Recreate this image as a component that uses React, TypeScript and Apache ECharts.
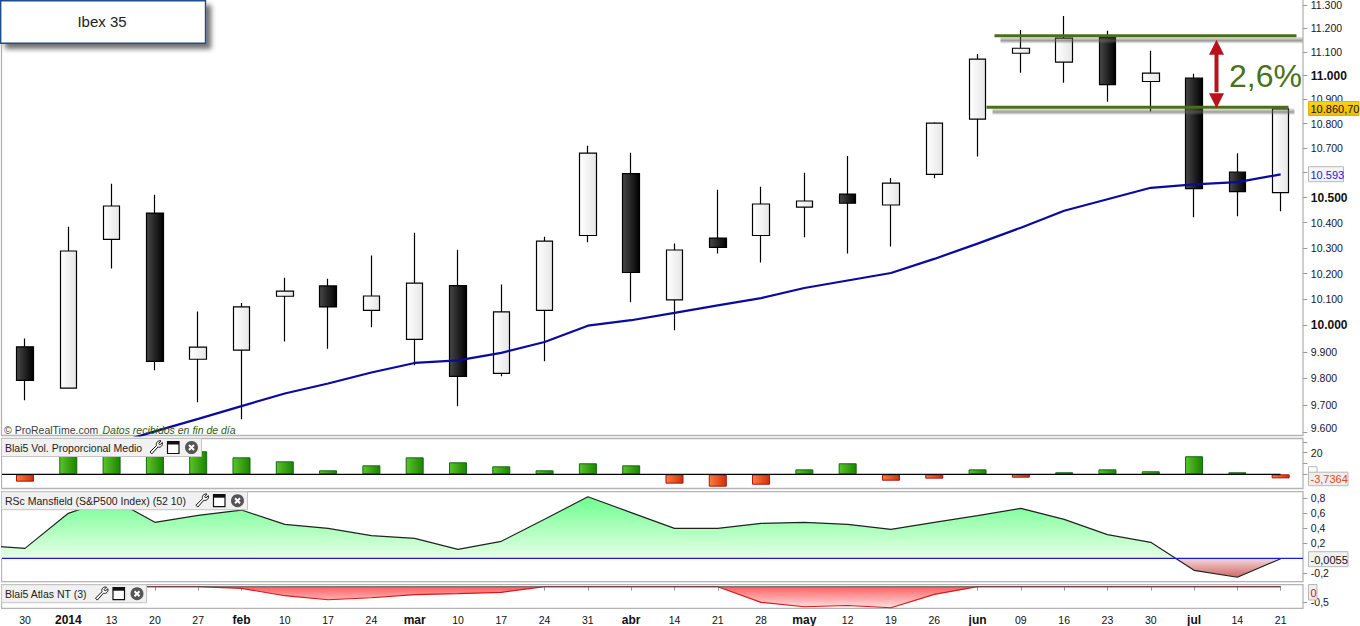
import React, { useEffect, useRef } from "react";
import * as echarts from "echarts";

const FONT = "Liberation Sans";

// one extra leading week (label-less) lets the indicator lines enter from the left edge
const categories = ["", "30", "2014", "13", "20", "27", "feb", "10", "17", "24", "mar", "10", "17", "24", "31", "abr", "14", "21", "28", "may", "12", "19", "26", "jun", "09", "16", "23", "30", "jul", "14", "21"];

// open, close, low, high
const candles: (number[] | null)[] = [
  null,
  [9919, 9793, 9719, 9950],
  [9764, 10288, 9762, 10384],
  [10334, 10466, 10220, 10555],
  [10438, 9864, 9831, 10511],
  [9872, 9918, 9711, 10053],
  [9906, 10071, 9649, 10086],
  [10112, 10132, 9939, 10184],
  [10152, 10071, 9912, 10180],
  [10058, 10113, 9993, 10270],
  [9947, 10163, 9849, 10360],
  [10153, 9808, 9697, 10293],
  [9819, 10052, 9808, 10157],
  [10058, 10327, 9864, 10344],
  [10349, 10679, 10322, 10709],
  [10596, 10204, 10089, 10681],
  [10098, 10292, 9982, 10317],
  [10339, 10302, 10278, 10531],
  [10349, 10474, 10243, 10543],
  [10462, 10486, 10342, 10600],
  [10514, 10477, 10278, 10668],
  [10470, 10558, 10306, 10578],
  [10593, 10802, 10577, 10806],
  [10819, 11069, 10666, 11091],
  [11094, 11115, 11012, 11193],
  [11056, 11158, 10970, 11253],
  [11160, 10962, 10891, 11189],
  [10975, 11010, 10850, 11104],
  [10989, 10536, 10421, 11007],
  [10602, 10524, 10425, 10679],
  [10520, 10860.7, 10445, 10860.7],
];

const movingAverage: (number | null)[] = [null, null, null, 9557, 9604, 9650, 9697, 9744, 9781, 9822, 9858, 9868, 9896, 9937, 9999, 10020, 10048, 10077, 10105, 10144, 10173, 10202, 10257, 10317, 10380, 10447, 10493, 10539, 10553, 10562, 10593];

const volume: (number | null)[] = [null, -6.8, 24, 22, 20, 21.3, 15.7, 12, 3.7, 8.3, 15.7, 11.1, 7.4, 3.7, 10.2, 8.3, -8.6, -11.4, -9.6, 4.6, 10.2, -5.9, -4, 4.6, -3.1, 1.9, 4.6, 2.8, 16.7, 1.9, -3.7364];

const mansfield = [0.175, 0.133, 0.6, 0.8, 0.48, 0.573, 0.644, 0.453, 0.4, 0.302, 0.267, 0.12, 0.227, 0.52, 0.822, 0.61, 0.4, 0.4, 0.467, 0.48, 0.453, 0.387, 0.48, 0.569, 0.667, 0.52, 0.316, 0.213, -0.16, -0.253, -0.0055];

const atlas: (number | null)[] = [null, 0, 0, 0, 0, 0, -0.053, -0.288, -0.417, -0.353, -0.256, -0.224, -0.18, 0, 0, 0, 0, 0, -0.5, -0.641, -0.6, -0.673, -0.246, 0, 0, 0, 0, 0, 0, 0, 0];

const priceTicks = [11300, 11200, 11100, 11000, 10900, 10800, 10700, 10600, 10500, 10400, 10300, 10200, 10100, 10000, 9900, 9800, 9700, 9600];
const priceLabels = [11300, 11200, 11100, 11000, 10900, 10800, 10700, 10500, 10400, 10300, 10200, 10100, 10000, 9900, 9800, 9700, 9600];
const boldPrices = [11000, 10500, 10000];
const volTicks = [0, 10, 20, 30];
const volLabels = [20];
const rscTicks = [-0.2, 0.2, 0.4, 0.6, 0.8];
const atlasTicks = [-0.5];

const upperLevel = 11168;
const lowerLevel = 10868;

echarts.graphic.registerShape(
  "wrenchIcon",
  echarts.graphic.extendPath("M1 11.5 L7.5 5 C6.6 2.2 8.8 -0.2 12 0.4 L9.6 3 L10.8 4.3 L13.4 2 C14 5.2 11.6 7.4 8.9 6.5 L2.8 13.4 Z", {}) as any
);

const hGrad = (a: string, b: string) => new echarts.graphic.LinearGradient(0, 0, 1, 0, [{ offset: 0, color: a }, { offset: 1, color: b }]);
const fmtPrice = (v: number) => {
  const n = Math.round(v);
  return `${Math.floor(n / 1000)}.${String(n % 1000).padStart(3, "0")}`;
};
const comma = (v: number) => String(v).replace(".", ",");

const LEFT = -39.95;
const WIDTH = 1342.25;
const LABEL_MARGIN = 8.5;

function frame(x: number, y: number, w: number, h: number) {
  return { type: "rect", z: 1, silent: true, shape: { x, y, width: w, height: h }, style: { fill: "none", stroke: "#b4b4b4", lineWidth: 1.3 } };
}
function label(text: string, x: number, y: number, color: string, extra: any = {}) {
  return { type: "text", z: 30, silent: true, x, y, style: { text, fill: color, font: `10.5px "${FONT}"`, verticalAlign: "middle", align: "left", ...extra } };
}
function valueBox(text: string, x: number, y: number, w: number, h: number, fill: any, color: string, stroke = "#b8b8b8") {
  return [
    { type: "rect", z: 29, silent: true, shape: { x, y, width: w, height: h }, style: { fill, stroke, lineWidth: 1 } },
    label(text, x + 2, y + h / 2 + 0.5, color, { font: `11px "${FONT}"` }),
  ];
}
function legendBox(text: string, w: number, y: number, x0: number) {
  const cy = y + 9;
  return [
    { type: "rect", z: 28, silent: true, shape: { x: 1.5, y, width: w, height: 18 }, style: { fill: "#f1f1f1", stroke: "#c4c4c4", lineWidth: 1 } },
    label(text, 5, cy, "#222"),
    { type: "wrenchIcon", z: 30, silent: true, x: x0, y: cy - 7, style: { fill: "#fff", stroke: "#111", lineWidth: 1 } },
    { type: "rect", z: 30, silent: true, shape: { x: x0 + 18.5, y: cy - 6, width: 11.5, height: 12 }, style: { fill: "#fff", stroke: "#111", lineWidth: 1.2 } },
    { type: "rect", z: 30, silent: true, shape: { x: x0 + 18.5, y: cy - 6, width: 11.5, height: 3 }, style: { fill: "#111" } },
    { type: "circle", z: 30, silent: true, shape: { cx: x0 + 42.5, cy, r: 6.5 }, style: { fill: "#555" } },
    { type: "line", z: 31, silent: true, shape: { x1: x0 + 40, y1: cy - 2.5, x2: x0 + 45, y2: cy + 2.5 }, style: { stroke: "#fff", lineWidth: 2 } },
    { type: "line", z: 31, silent: true, shape: { x1: x0 + 45, y1: cy - 2.5, x2: x0 + 40, y2: cy + 2.5 }, style: { stroke: "#fff", lineWidth: 2 } },
  ];
}
function levelLine(x: number, w: number, y: number) {
  return [
    {
      type: "rect", z: 19, silent: true,
      shape: { x: x + 6, y: y + 1, width: w, height: 7 },
      style: { fill: new echarts.graphic.LinearGradient(0, 0, 0, 1, [{ offset: 0, color: "rgba(110,110,110,0.1)" }, { offset: 0.55, color: "rgba(100,100,100,0.65)" }, { offset: 1, color: "rgba(110,110,110,0)" }]) },
    },
    { type: "rect", z: 20, silent: true, shape: { x, y: y - 1.5, width: w, height: 3 }, style: { fill: "#4a6f1c" } },
  ];
}

function buildOption(): any {
  const area = { type: "line", showSymbol: false, symbol: "none", animation: false };
  const gridBase = { left: LEFT, width: WIDTH, outerBoundsMode: "none", containLabel: false };
  return {
    animation: false,
    backgroundColor: "#fff",
    textStyle: { fontFamily: FONT },
    grid: [
      { ...gridBase, top: 0, height: 435.5 },
      { ...gridBase, top: 438.5, height: 50 },
      { ...gridBase, top: 491.7, height: 90 },
      { ...gridBase, top: 584.7, height: 23.6 },
    ],
    xAxis: [0, 1, 2, 3].map((i) => ({
      type: "category",
      gridIndex: i,
      data: categories,
      show: i === 3,
      boundaryGap: true,
      axisLine: { show: false },
      axisTick: { show: i === 3, alignWithLabel: true, length: 4, lineStyle: { color: "#999" } },
      axisLabel: {
        show: i === 3,
        interval: 0,
        margin: 6,
        fontFamily: FONT,
        fontSize: 10.5,
        color: "#111",
        formatter: (v: string) => (/^\d{2}$/.test(v) || v === "" ? v : `{b|${v}}`),
        rich: { b: { fontFamily: FONT, fontSize: 12, fontWeight: "bold", color: "#111" } },
      },
    })),
    yAxis: [
      {
        type: "value", gridIndex: 0, position: "right",
        min: Math.log(9589), max: Math.log(11321.5),
        splitLine: { show: false }, axisLine: { show: false },
        axisTick: { show: true, length: 5, customValues: priceTicks.map(Math.log), lineStyle: { color: "#999" } },
        axisLabel: {
          margin: LABEL_MARGIN, fontFamily: FONT, fontSize: 10.5, color: "#16162a",
          customValues: priceLabels.map(Math.log),
          formatter: (v: number) => {
            const n = Math.round(Math.exp(v));
            const s = fmtPrice(n);
            if (boldPrices.includes(n)) return `{b|${s}}`;
            if (n === priceTicks[priceTicks.length - 1]) return `{u|${s}}`;
            return s;
          },
          rich: {
            b: { fontFamily: FONT, fontSize: 12, fontWeight: "bold", color: "#111" },
            u: { fontFamily: FONT, fontSize: 10.5, color: "#16162a", padding: [0, 0, 8, 0] },
          },
        },
      },
      {
        type: "value", gridIndex: 1, position: "right", min: -13.1, max: 33.1,
        splitLine: { show: false }, axisLine: { show: false },
        axisTick: { show: true, length: 5, customValues: volTicks, lineStyle: { color: "#999" } },
        axisLabel: { margin: LABEL_MARGIN, fontFamily: FONT, fontSize: 10.5, color: "#16162a", customValues: volLabels },
      },
      {
        type: "value", gridIndex: 2, position: "right", min: -0.312, max: 0.8887,
        splitLine: { show: false }, axisLine: { show: false },
        axisTick: { show: true, length: 5, customValues: rscTicks, lineStyle: { color: "#999" } },
        axisLabel: { margin: LABEL_MARGIN, fontFamily: FONT, fontSize: 10.5, color: "#16162a", customValues: rscTicks, formatter: (v: number) => comma(Math.round(v * 10) / 10) },
      },
      {
        type: "value", gridIndex: 3, position: "right", min: -0.69, max: 0.064,
        splitLine: { show: false }, axisLine: { show: false },
        axisTick: { show: true, length: 5, customValues: atlasTicks, lineStyle: { color: "#999" } },
        axisLabel: { margin: LABEL_MARGIN, fontFamily: FONT, fontSize: 10.5, color: "#16162a", customValues: atlasTicks, formatter: (v: number) => comma(v) },
      },
    ],
    series: [
      {
        type: "candlestick",
        xAxisIndex: 0, yAxisIndex: 0,
        barWidth: 17,
        data: candles.map((c) => (c ? c.map(Math.log) : ["-", "-", "-", "-"])),
        itemStyle: {
          color: hGrad("#ffffff", "#e6e6e6"),
          color0: hGrad("#484848", "#000000"),
          borderColor: "#000",
          borderColor0: "#000",
          borderWidth: 1.2,
        },
      },
      {
        ...area, xAxisIndex: 0, yAxisIndex: 0, z: 3,
        data: movingAverage.map((v) => (v == null ? "-" : Math.log(v))),
        lineStyle: { color: "#0a0a9c", width: 2.2 },
      },
      {
        type: "bar", xAxisIndex: 1, yAxisIndex: 1, barWidth: 18,
        data: volume.map((v) => ({
          value: v == null ? "-" : v,
          itemStyle: (v ?? 0) >= 0
            ? { color: hGrad("#5cc42c", "#1c8400"), borderColor: "#106a10", borderWidth: 1 }
            : { color: hGrad("#ff7c3c", "#cf300c"), borderColor: "#a81212", borderWidth: 1 },
        })),
      },
      {
        ...area, xAxisIndex: 2, yAxisIndex: 2,
        data: mansfield,
        lineStyle: { color: "#222", width: 1.2 },
        areaStyle: {
          opacity: 1,
          origin: 0,
          color: new echarts.graphic.LinearGradient(0, 497, 0, 578, [
            { offset: 0, color: "#6eff90" },
            { offset: 0.755, color: "#e6ffe6" },
            { offset: 0.755, color: "#f5d8d8" },
            { offset: 1, color: "#cc6464" },
          ], true),
        },
      },
      {
        ...area, xAxisIndex: 3, yAxisIndex: 3,
        data: atlas.map((v) => (v == null ? "-" : v)),
        lineStyle: { color: "#d8181c", width: 1.2 },
        areaStyle: {
          opacity: 1,
          origin: 0,
          color: new echarts.graphic.LinearGradient(0, 587, 0, 608, [
            { offset: 0, color: "#ff6266" },
            { offset: 1, color: "#ffe2e2" },
          ], true),
        },
      },
    ],
  };
}

function buildGraphic(chart: any) {
  const py = (v: number) => chart.convertToPixel({ yAxisIndex: 0 }, Math.log(v));
  const zeroVol = chart.convertToPixel({ yAxisIndex: 1 }, 0);
  const zeroRsc = chart.convertToPixel({ yAxisIndex: 2 }, 0);
  const zeroAtlas = chart.convertToPixel({ yAxisIndex: 3 }, 0);
  const yUp = py(upperLevel);
  const yLow = py(lowerLevel);
  const ax = 1216.5;
  const red = "#b8121c";
  const elements: any[] = [
    frame(1.5, -3, 1301.5, 438.5),
    frame(1.5, 438.5, 1301.5, 50),
    frame(1.5, 491.7, 1301.5, 90),
    frame(1.5, 584.7, 1301.5, 23.6),
    { type: "rect", z: 40, silent: true, shape: { x: 0, y: 437, width: 1, height: 172 }, style: { fill: "#fff" } },
    { type: "line", z: 15, silent: true, shape: { x1: 2, y1: zeroVol, x2: 1280.5, y2: zeroVol }, style: { stroke: "#000", lineWidth: 1.2 } },
    { type: "line", z: 15, silent: true, shape: { x1: 2, y1: zeroRsc, x2: 1303, y2: zeroRsc }, style: { stroke: "#1a1ae0", lineWidth: 1.2 } },
    { type: "line", z: 15, silent: true, shape: { x1: 2, y1: zeroAtlas, x2: 1280.5, y2: zeroAtlas }, style: { stroke: "#555", lineWidth: 1.1 } },
    label("© ProRealTime.com", 4, 429.5, "#3c3c3c"),
    label("Datos recibidos en fin de día", 102.5, 429.5, "#2e5a14", { font: `italic 10.5px "${FONT}"` }),
    // title box
    { type: "rect", z: 28, silent: true, shape: { x: 0.7, y: 0.7, width: 204.8, height: 42.6 }, style: { fill: "#fff", stroke: "#1f4e8c", lineWidth: 1.4, shadowBlur: 5, shadowColor: "rgba(0,0,0,0.55)", shadowOffsetX: 5, shadowOffsetY: 5 } },
    { type: "text", z: 30, silent: true, x: 102, y: 21, style: { text: "Ibex 35", fill: "#222", font: `15px "${FONT}"`, align: "center", verticalAlign: "middle" } },
    ...levelLine(994.5, 302, yUp),
    ...levelLine(986.5, 302, yLow),
    // arrow between the two levels
    { type: "rect", z: 21, silent: true, shape: { x: ax - 2, y: yUp + 15, width: 4, height: yLow - yUp - 30 }, style: { fill: red } },
    { type: "polygon", z: 21, silent: true, shape: { points: [[ax, yUp + 4], [ax + 7.5, yUp + 19], [ax - 7.5, yUp + 19]] }, style: { fill: red } },
    { type: "polygon", z: 21, silent: true, shape: { points: [[ax, yLow + 1], [ax + 7.5, yLow - 14], [ax - 7.5, yLow - 14]] }, style: { fill: red } },
    { type: "text", z: 22, silent: true, x: 1229, y: 75.5, style: { text: "2,6%", fill: "#4a7118", font: `32px "${FONT}"`, align: "left", verticalAlign: "middle" } },
    // last-value boxes
    ...valueBox("10.860,70", 1308.5, 101.5, 50.5, 14, new echarts.graphic.LinearGradient(0, 0, 0, 1, [{ offset: 0, color: "#ffd21a" }, { offset: 1, color: "#f2b900" }]), "#111", "#e2b000"),
    ...valueBox("10.593", 1308.5, 166.7, 35, 15, "#f5f5f8", "#2222cc"),
    { type: "rect", z: 28, silent: true, shape: { x: 1308.5, y: 466.7, width: 8.5, height: 6 }, style: { fill: "#fff", stroke: "#b8b8b8", lineWidth: 1 } },
    ...valueBox("-3,7364", 1308.5, 472.2, 39.5, 13.5, "#eeeeee", "#e24a12"),
    ...valueBox("-0,0055", 1308.5, 551.7, 39.5, 15, "#f2f2f2", "#111"),
    ...valueBox("0", 1308.5, 584.5, 8.5, 15.5, "#eeeeee", "#e01020"),
    ...legendBox("Blai5 Vol. Proporcional Medio", 200, 438.5, 149),
    ...legendBox("RSc Mansfield (S&P500 Index) (52 10)", 246, 491.7, 195),
    ...legendBox("Blai5 Atlas NT (3)", 145, 584.7, 94.5),
  ];
  return { elements };
}

export default function App() {
  const ref = useRef<HTMLDivElement>(null);
  useEffect(() => {
    document.body.style.margin = "0";
    const chart = echarts.init(ref.current!, undefined, { renderer: "svg" });
    chart.setOption(buildOption());
    chart.setOption({ graphic: buildGraphic(chart) });
    return () => chart.dispose();
  }, []);
  return <div ref={ref} style={{ position: "absolute", left: 0, top: 0, width: 1360, height: 626 }} />;
}
